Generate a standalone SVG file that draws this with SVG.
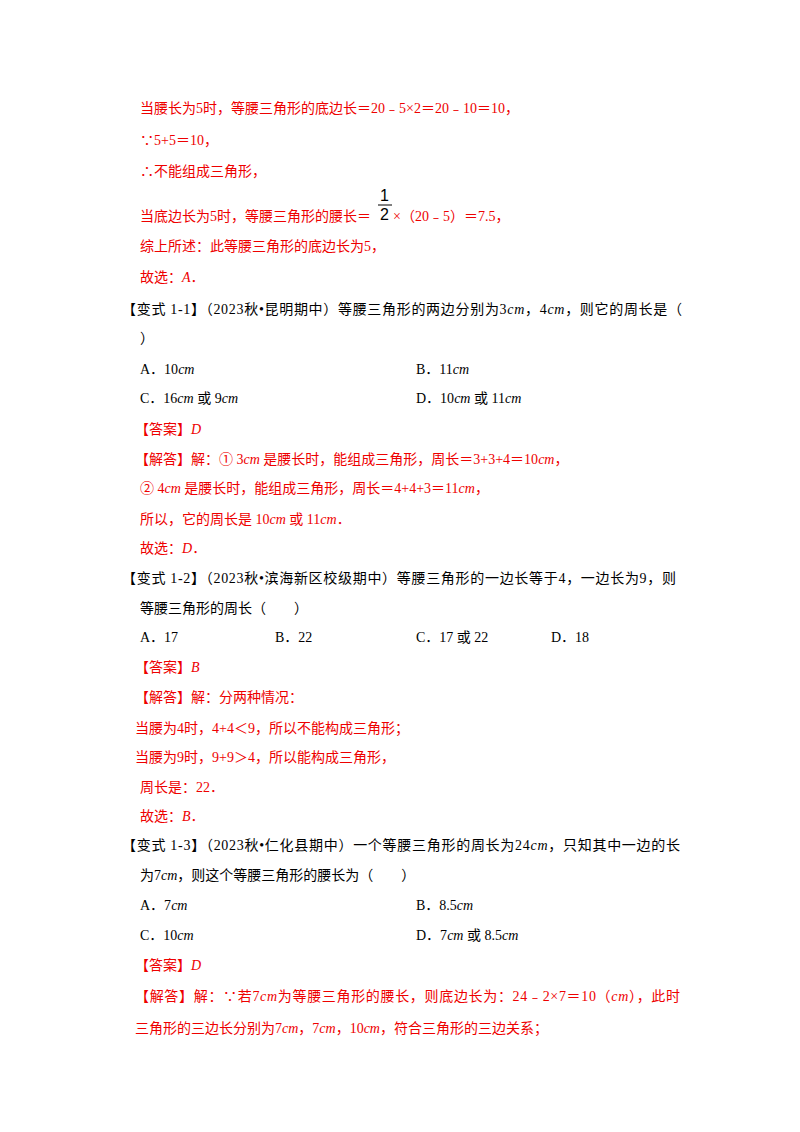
<svg xmlns="http://www.w3.org/2000/svg" width="800" height="1132" viewBox="0 0 800 1132">
<style>
text{font-family:"Liberation Serif","Noto Sans CJK SC",serif;font-size:14px}
.r{fill:#ee0000}.k{fill:#000}
.i{font-style:italic}
</style>
<rect width="800" height="1132" fill="#fff"/>
<g id="text">
<text class="r" x="140" y="113">当腰长为5时，等腰三角形的底边长＝20﹣5×2＝20﹣10＝10，</text>
<text class="r" x="140" y="145">∵5+5＝10，</text>
<text class="r" x="140" y="176">∴不能组成三角形，</text>
<text class="r" x="140" y="221">当底边长为5时，等腰三角形的腰长＝</text>
<text class="k" x="380" y="201" style="font-family:'Liberation Sans',sans-serif;font-size:16px">1</text>
<line x1="378" y1="205" x2="392" y2="205" stroke="#000" stroke-width="1"/>
<text class="k" x="380" y="220" style="font-family:'Liberation Sans',sans-serif;font-size:16px">2</text>
<text class="r" x="393" y="221">×（20﹣5）＝7.5，</text>
<text class="r" x="140" y="251">综上所述：此等腰三角形的底边长为5，</text>
<text class="r" x="140" y="282">故选：<tspan class="i">A</tspan>．</text>
<text class="k" x="122" y="314" textLength="560">【变式 1-1】（2023秋•昆明期中）等腰三角形的两边分别为3<tspan class="i">cm</tspan>，4<tspan class="i">cm</tspan>，则它的周长是（</text>
<text class="k" x="140" y="343">）</text>
<text class="k" x="140" y="374">A．10<tspan class="i">cm</tspan></text>
<text class="k" x="416" y="374">B．11<tspan class="i">cm</tspan></text>
<text class="k" x="140" y="403">C．16<tspan class="i">cm</tspan> 或 9<tspan class="i">cm</tspan></text>
<text class="k" x="416" y="403">D．10<tspan class="i">cm</tspan> 或 11<tspan class="i">cm</tspan></text>
<text class="r" x="135" y="434">【答案】<tspan class="i">D</tspan></text>
<text class="r" x="135" y="464">【解答】解：① 3<tspan class="i">cm</tspan> 是腰长时，能组成三角形，周长＝3+3+4＝10<tspan class="i">cm</tspan>，</text>
<text class="r" x="140" y="493">② 4<tspan class="i">cm</tspan> 是腰长时，能组成三角形，周长＝4+4+3＝11<tspan class="i">cm</tspan>，</text>
<text class="r" x="140" y="524">所以，它的周长是 10<tspan class="i">cm</tspan> 或 11<tspan class="i">cm</tspan>．</text>
<text class="r" x="140" y="553">故选：<tspan class="i">D</tspan>．</text>
<text class="k" x="122" y="583" textLength="554">【变式 1-2】（2023秋•滨海新区校级期中）等腰三角形的一边长等于4，一边长为9，则</text>
<text class="k" x="140" y="613">等腰三角形的周长（　　）</text>
<text class="k" x="140" y="642">A．17</text>
<text class="k" x="275" y="642">B．22</text>
<text class="k" x="416" y="642">C．17 或 22</text>
<text class="k" x="551" y="642">D．18</text>
<text class="r" x="135" y="672">【答案】<tspan class="i">B</tspan></text>
<text class="r" x="135" y="702">【解答】解：分两种情况：</text>
<text class="r" x="135" y="733">当腰为4时，4+4＜9，所以不能构成三角形；</text>
<text class="r" x="135" y="762">当腰为9时，9+9＞4，所以能构成三角形，</text>
<text class="r" x="140" y="792">周长是：22．</text>
<text class="r" x="140" y="821">故选：<tspan class="i">B</tspan>．</text>
<text class="k" x="122" y="850" textLength="558">【变式 1-3】（2023秋•仁化县期中）一个等腰三角形的周长为24<tspan class="i">cm</tspan>，只知其中一边的长</text>
<text class="k" x="140" y="880">为7<tspan class="i">cm</tspan>，则这个等腰三角形的腰长为（　　）</text>
<text class="k" x="140" y="910">A．7<tspan class="i">cm</tspan></text>
<text class="k" x="416" y="910">B．8.5<tspan class="i">cm</tspan></text>
<text class="k" x="140" y="940">C．10<tspan class="i">cm</tspan></text>
<text class="k" x="416" y="940">D．7<tspan class="i">cm</tspan> 或 8.5<tspan class="i">cm</tspan></text>
<text class="r" x="135" y="970">【答案】<tspan class="i">D</tspan></text>
<text class="r" x="135" y="1001" textLength="545">【解答】解：∵若7<tspan class="i">cm</tspan>为等腰三角形的腰长，则底边长为：24﹣2×7＝10（<tspan class="i">cm</tspan>），此时</text>
<text class="r" x="135" y="1033">三角形的三边长分别为7<tspan class="i">cm</tspan>，7<tspan class="i">cm</tspan>，10<tspan class="i">cm</tspan>，符合三角形的三边关系；</text>
</g>
</svg>
